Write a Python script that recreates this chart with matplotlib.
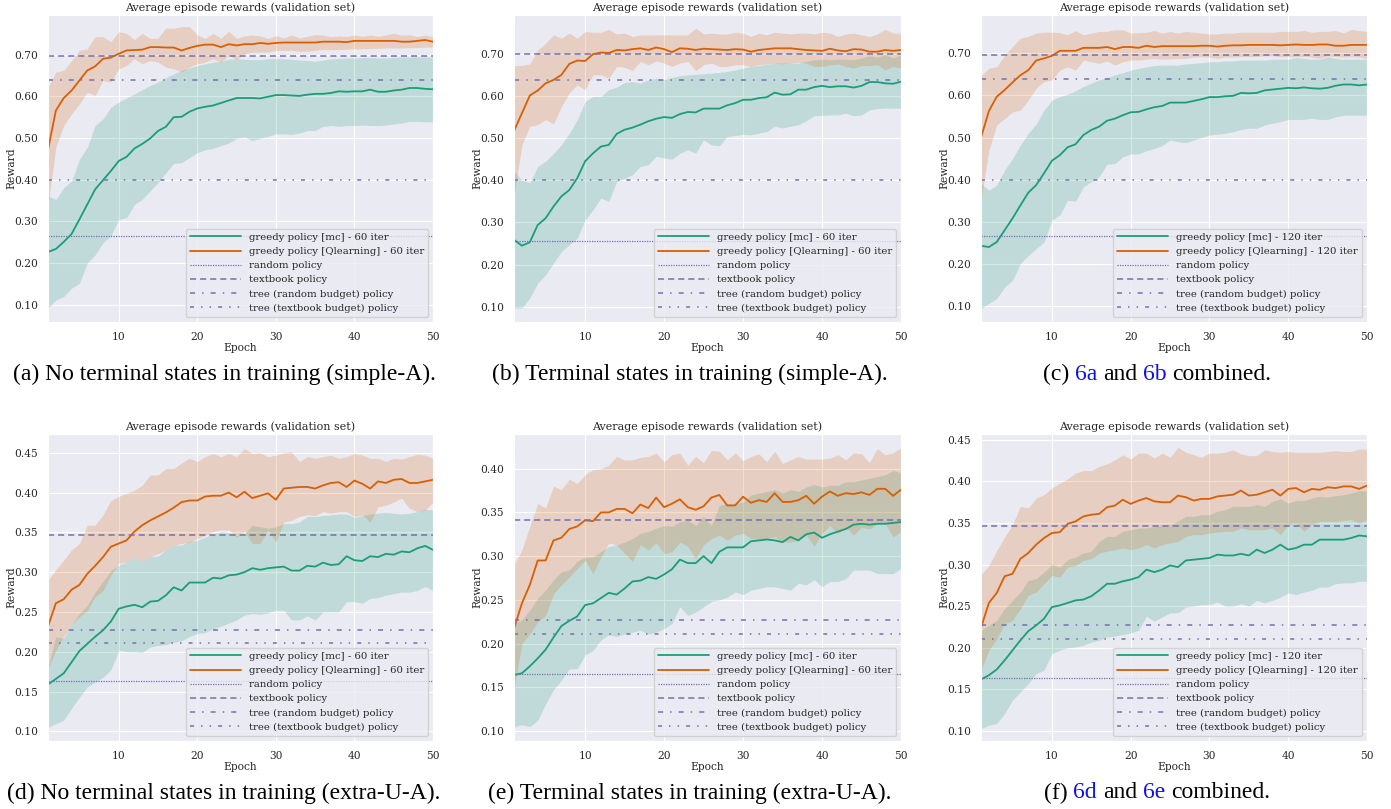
import matplotlib
matplotlib.use("Agg")
import matplotlib.pyplot as plt
import seaborn as sns
from matplotlib.ticker import MultipleLocator, FormatStrFormatter

sns.set_style("darkgrid")
plt.rcParams["font.family"] = "DejaVu Serif"

EPOCHS = list(range(1, 51))

# (a) no terminal states, simple-A
A_MC = [0.227, 0.234, 0.251, 0.270, 0.305, 0.341, 0.377, 0.399, 0.421, 0.445,
        0.455, 0.475, 0.486, 0.499, 0.517, 0.527, 0.550, 0.551, 0.563, 0.571,
        0.575, 0.578, 0.584, 0.590, 0.596, 0.596, 0.596, 0.595, 0.599, 0.603,
        0.603, 0.602, 0.601, 0.604, 0.606, 0.606, 0.608, 0.612, 0.611, 0.612,
        0.612, 0.616, 0.611, 0.611, 0.614, 0.616, 0.620, 0.620, 0.618, 0.617]
A_MC_HI = [0.361, 0.353, 0.381, 0.397, 0.449, 0.478, 0.530, 0.546, 0.574, 0.586,
           0.596, 0.606, 0.616, 0.626, 0.634, 0.645, 0.654, 0.662, 0.668, 0.674,
           0.678, 0.682, 0.684, 0.689, 0.690, 0.689, 0.688, 0.688, 0.690, 0.691,
           0.690, 0.689, 0.687, 0.686, 0.684, 0.687, 0.690, 0.691, 0.692, 0.692,
           0.693, 0.693, 0.692, 0.692, 0.693, 0.694, 0.694, 0.695, 0.694, 0.694]
A_MC_LO = [0.092, 0.112, 0.120, 0.140, 0.152, 0.200, 0.220, 0.249, 0.265, 0.305,
           0.309, 0.341, 0.353, 0.373, 0.393, 0.417, 0.439, 0.441, 0.453, 0.465,
           0.472, 0.475, 0.482, 0.488, 0.499, 0.503, 0.494, 0.499, 0.504, 0.510,
           0.510, 0.509, 0.512, 0.518, 0.518, 0.528, 0.530, 0.528, 0.530, 0.530,
           0.531, 0.530, 0.530, 0.531, 0.534, 0.536, 0.540, 0.540, 0.539, 0.539]
A_QL = [0.472, 0.566, 0.596, 0.614, 0.638, 0.662, 0.672, 0.690, 0.693, 0.702,
        0.710, 0.711, 0.712, 0.718, 0.718, 0.717, 0.717, 0.710, 0.716, 0.721,
        0.724, 0.724, 0.718, 0.725, 0.722, 0.725, 0.725, 0.728, 0.726, 0.728,
        0.729, 0.729, 0.729, 0.729, 0.729, 0.731, 0.731, 0.731, 0.730, 0.733,
        0.733, 0.733, 0.733, 0.733, 0.733, 0.731, 0.731, 0.733, 0.735, 0.731]
A_QL_HI = [0.622, 0.658, 0.662, 0.686, 0.710, 0.714, 0.743, 0.743, 0.731, 0.755,
           0.751, 0.736, 0.751, 0.739, 0.739, 0.764, 0.763, 0.767, 0.767, 0.747,
           0.739, 0.751, 0.739, 0.756, 0.739, 0.745, 0.747, 0.745, 0.739, 0.745,
           0.740, 0.747, 0.740, 0.744, 0.748, 0.747, 0.743, 0.745, 0.743, 0.747,
           0.744, 0.747, 0.744, 0.747, 0.751, 0.747, 0.748, 0.743, 0.747, 0.743]
A_QL_LO = [0.337, 0.478, 0.530, 0.558, 0.582, 0.610, 0.602, 0.638, 0.634, 0.666,
           0.674, 0.690, 0.678, 0.686, 0.682, 0.670, 0.666, 0.658, 0.670, 0.678,
           0.682, 0.690, 0.682, 0.698, 0.688, 0.702, 0.706, 0.706, 0.706, 0.710,
           0.710, 0.710, 0.708, 0.708, 0.710, 0.712, 0.712, 0.712, 0.713, 0.714,
           0.714, 0.715, 0.715, 0.716, 0.716, 0.716, 0.717, 0.717, 0.718, 0.718]

# (b) terminal states, simple-A
B_MC = [0.259, 0.245, 0.253, 0.294, 0.310, 0.338, 0.362, 0.377, 0.405, 0.445,
        0.464, 0.480, 0.484, 0.510, 0.520, 0.525, 0.532, 0.540, 0.546, 0.550,
        0.548, 0.557, 0.562, 0.561, 0.570, 0.570, 0.570, 0.578, 0.583, 0.591,
        0.591, 0.595, 0.597, 0.608, 0.603, 0.604, 0.615, 0.615, 0.621, 0.624,
        0.621, 0.623, 0.623, 0.620, 0.624, 0.633, 0.633, 0.630, 0.629, 0.634]
B_MC_HI = [0.421, 0.401, 0.394, 0.433, 0.445, 0.464, 0.484, 0.512, 0.543, 0.587,
           0.599, 0.599, 0.615, 0.621, 0.632, 0.634, 0.630, 0.638, 0.642, 0.638,
           0.644, 0.648, 0.650, 0.651, 0.653, 0.654, 0.656, 0.658, 0.662, 0.666,
           0.670, 0.672, 0.675, 0.678, 0.678, 0.678, 0.678, 0.682, 0.686, 0.687,
           0.686, 0.687, 0.687, 0.686, 0.690, 0.695, 0.692, 0.698, 0.690, 0.698]
B_MC_LO = [0.097, 0.097, 0.121, 0.156, 0.176, 0.204, 0.231, 0.247, 0.263, 0.306,
           0.330, 0.358, 0.350, 0.397, 0.405, 0.413, 0.433, 0.437, 0.457, 0.453,
           0.450, 0.464, 0.472, 0.464, 0.496, 0.484, 0.482, 0.504, 0.506, 0.509,
           0.508, 0.512, 0.516, 0.528, 0.524, 0.528, 0.532, 0.541, 0.553, 0.554,
           0.555, 0.555, 0.559, 0.553, 0.555, 0.567, 0.570, 0.571, 0.571, 0.571]
B_QL = [0.517, 0.559, 0.601, 0.613, 0.630, 0.638, 0.650, 0.676, 0.684, 0.683,
        0.699, 0.703, 0.702, 0.709, 0.708, 0.711, 0.713, 0.709, 0.715, 0.711,
        0.704, 0.713, 0.712, 0.709, 0.712, 0.711, 0.710, 0.709, 0.711, 0.710,
        0.705, 0.709, 0.711, 0.713, 0.713, 0.713, 0.711, 0.709, 0.708, 0.707,
        0.712, 0.708, 0.706, 0.711, 0.710, 0.705, 0.705, 0.709, 0.707, 0.709]
B_QL_HI = [0.672, 0.672, 0.676, 0.709, 0.725, 0.745, 0.737, 0.749, 0.737, 0.753,
           0.751, 0.751, 0.758, 0.747, 0.749, 0.741, 0.745, 0.745, 0.745, 0.745,
           0.745, 0.745, 0.745, 0.761, 0.747, 0.749, 0.747, 0.747, 0.751, 0.749,
           0.741, 0.749, 0.745, 0.751, 0.749, 0.747, 0.749, 0.749, 0.747, 0.751,
           0.749, 0.741, 0.747, 0.749, 0.745, 0.741, 0.747, 0.758, 0.749, 0.749]
B_QL_LO = [0.362, 0.484, 0.528, 0.532, 0.544, 0.534, 0.575, 0.607, 0.626, 0.615,
           0.650, 0.650, 0.642, 0.670, 0.668, 0.660, 0.682, 0.674, 0.683, 0.678,
           0.670, 0.678, 0.682, 0.660, 0.674, 0.678, 0.670, 0.670, 0.674, 0.674,
           0.670, 0.674, 0.676, 0.678, 0.676, 0.678, 0.680, 0.678, 0.670, 0.670,
           0.674, 0.676, 0.670, 0.666, 0.672, 0.672, 0.674, 0.662, 0.670, 0.666]

# (c) simple-A combined
C_MC = [0.243, 0.240, 0.252, 0.280, 0.308, 0.339, 0.369, 0.387, 0.415, 0.445,
        0.458, 0.477, 0.484, 0.506, 0.518, 0.526, 0.540, 0.545, 0.553, 0.560,
        0.561, 0.567, 0.572, 0.575, 0.583, 0.583, 0.583, 0.587, 0.591, 0.596,
        0.596, 0.598, 0.599, 0.606, 0.605, 0.606, 0.612, 0.614, 0.616, 0.618,
        0.617, 0.619, 0.617, 0.616, 0.618, 0.623, 0.626, 0.626, 0.624, 0.626]
C_MC_HI = [0.391, 0.375, 0.387, 0.423, 0.450, 0.482, 0.510, 0.532, 0.565, 0.589,
           0.597, 0.603, 0.611, 0.621, 0.629, 0.637, 0.642, 0.649, 0.654, 0.660,
           0.664, 0.668, 0.671, 0.672, 0.672, 0.672, 0.675, 0.676, 0.678, 0.680,
           0.680, 0.682, 0.682, 0.684, 0.684, 0.684, 0.684, 0.686, 0.686, 0.686,
           0.690, 0.688, 0.686, 0.686, 0.692, 0.688, 0.686, 0.686, 0.686, 0.686]
C_MC_LO = [0.094, 0.106, 0.118, 0.145, 0.161, 0.201, 0.220, 0.236, 0.252, 0.304,
           0.316, 0.351, 0.349, 0.383, 0.395, 0.407, 0.437, 0.438, 0.454, 0.461,
           0.461, 0.469, 0.474, 0.481, 0.494, 0.490, 0.488, 0.494, 0.500, 0.506,
           0.508, 0.510, 0.514, 0.519, 0.522, 0.522, 0.530, 0.534, 0.538, 0.543,
           0.543, 0.543, 0.546, 0.543, 0.543, 0.549, 0.553, 0.553, 0.553, 0.553]
C_QL = [0.500, 0.563, 0.597, 0.613, 0.631, 0.648, 0.660, 0.683, 0.688, 0.694,
        0.706, 0.706, 0.706, 0.713, 0.713, 0.713, 0.715, 0.710, 0.715, 0.715,
        0.713, 0.718, 0.715, 0.717, 0.717, 0.717, 0.717, 0.717, 0.718, 0.718,
        0.716, 0.718, 0.719, 0.719, 0.720, 0.720, 0.720, 0.720, 0.719, 0.720,
        0.721, 0.720, 0.720, 0.721, 0.721, 0.718, 0.718, 0.720, 0.720, 0.720]
C_QL_HI = [0.646, 0.665, 0.668, 0.696, 0.716, 0.736, 0.740, 0.748, 0.750, 0.750,
           0.749, 0.744, 0.754, 0.744, 0.748, 0.752, 0.752, 0.756, 0.756, 0.748,
           0.749, 0.750, 0.754, 0.748, 0.752, 0.748, 0.752, 0.750, 0.748, 0.746,
           0.746, 0.748, 0.748, 0.750, 0.750, 0.750, 0.750, 0.750, 0.752, 0.752,
           0.752, 0.754, 0.750, 0.752, 0.752, 0.754, 0.748, 0.757, 0.754, 0.752]
C_QL_LO = [0.351, 0.470, 0.530, 0.545, 0.561, 0.565, 0.589, 0.617, 0.633, 0.637,
           0.660, 0.668, 0.660, 0.684, 0.680, 0.676, 0.682, 0.672, 0.680, 0.684,
           0.684, 0.686, 0.688, 0.686, 0.687, 0.688, 0.688, 0.691, 0.692, 0.691,
           0.688, 0.691, 0.691, 0.692, 0.692, 0.692, 0.694, 0.694, 0.692, 0.692,
           0.692, 0.692, 0.691, 0.688, 0.694, 0.692, 0.691, 0.692, 0.691, 0.688]

# (d) no terminal states, extra-U-A
D_MC = [0.159, 0.166, 0.173, 0.187, 0.201, 0.210, 0.219, 0.227, 0.238, 0.254,
        0.257, 0.259, 0.256, 0.263, 0.264, 0.271, 0.281, 0.277, 0.287, 0.287,
        0.287, 0.293, 0.292, 0.296, 0.297, 0.300, 0.305, 0.303, 0.305, 0.306,
        0.307, 0.302, 0.302, 0.308, 0.307, 0.312, 0.309, 0.310, 0.320, 0.315,
        0.314, 0.320, 0.319, 0.323, 0.322, 0.326, 0.325, 0.330, 0.333, 0.328]
D_MC_HI = [0.181, 0.219, 0.217, 0.235, 0.248, 0.258, 0.275, 0.288, 0.302, 0.309,
           0.313, 0.319, 0.313, 0.320, 0.320, 0.328, 0.334, 0.334, 0.339, 0.340,
           0.344, 0.348, 0.351, 0.350, 0.346, 0.348, 0.359, 0.357, 0.355, 0.357,
           0.361, 0.361, 0.363, 0.370, 0.370, 0.371, 0.372, 0.373, 0.373, 0.369,
           0.371, 0.373, 0.374, 0.375, 0.374, 0.373, 0.374, 0.376, 0.379, 0.378]
D_MC_LO = [0.105, 0.110, 0.114, 0.129, 0.143, 0.156, 0.162, 0.168, 0.177, 0.202,
           0.200, 0.200, 0.199, 0.206, 0.208, 0.209, 0.212, 0.214, 0.219, 0.223,
           0.224, 0.229, 0.232, 0.236, 0.240, 0.246, 0.248, 0.247, 0.249, 0.252,
           0.252, 0.240, 0.240, 0.245, 0.240, 0.250, 0.250, 0.250, 0.263, 0.263,
           0.261, 0.267, 0.268, 0.271, 0.273, 0.275, 0.275, 0.277, 0.282, 0.277]
D_QL = [0.232, 0.261, 0.266, 0.278, 0.284, 0.298, 0.308, 0.319, 0.332, 0.336,
        0.340, 0.351, 0.359, 0.365, 0.370, 0.375, 0.381, 0.388, 0.390, 0.390,
        0.395, 0.396, 0.396, 0.400, 0.394, 0.401, 0.393, 0.396, 0.399, 0.391,
        0.405, 0.406, 0.407, 0.407, 0.405, 0.409, 0.412, 0.413, 0.407, 0.415,
        0.411, 0.405, 0.414, 0.412, 0.416, 0.417, 0.412, 0.412, 0.414, 0.416]
D_QL_HI = [0.290, 0.303, 0.315, 0.328, 0.336, 0.359, 0.359, 0.372, 0.390, 0.395,
           0.399, 0.403, 0.409, 0.422, 0.422, 0.430, 0.430, 0.437, 0.443, 0.439,
           0.445, 0.449, 0.445, 0.449, 0.445, 0.455, 0.449, 0.450, 0.445, 0.447,
           0.450, 0.451, 0.439, 0.445, 0.443, 0.445, 0.447, 0.443, 0.445, 0.449,
           0.447, 0.443, 0.443, 0.439, 0.443, 0.442, 0.445, 0.448, 0.447, 0.443]
D_QL_LO = [0.179, 0.202, 0.219, 0.235, 0.244, 0.252, 0.269, 0.277, 0.296, 0.311,
           0.313, 0.319, 0.313, 0.320, 0.323, 0.328, 0.334, 0.336, 0.338, 0.342,
           0.346, 0.351, 0.353, 0.353, 0.344, 0.351, 0.336, 0.336, 0.353, 0.338,
           0.363, 0.365, 0.370, 0.372, 0.371, 0.376, 0.374, 0.376, 0.376, 0.370,
           0.372, 0.363, 0.382, 0.384, 0.388, 0.393, 0.380, 0.376, 0.378, 0.388]

# (e) terminal states, extra-U-A
E_MC = [0.164, 0.166, 0.174, 0.183, 0.193, 0.207, 0.220, 0.226, 0.231, 0.244,
        0.246, 0.252, 0.258, 0.256, 0.263, 0.271, 0.272, 0.276, 0.274, 0.279,
        0.285, 0.296, 0.292, 0.292, 0.300, 0.292, 0.305, 0.310, 0.310, 0.310,
        0.317, 0.318, 0.319, 0.318, 0.316, 0.322, 0.318, 0.325, 0.327, 0.321,
        0.325, 0.328, 0.331, 0.336, 0.337, 0.336, 0.337, 0.337, 0.338, 0.339]
E_MC_HI = [0.223, 0.227, 0.238, 0.252, 0.261, 0.273, 0.282, 0.284, 0.294, 0.299,
           0.299, 0.305, 0.311, 0.313, 0.316, 0.320, 0.326, 0.328, 0.332, 0.335,
           0.334, 0.339, 0.341, 0.335, 0.345, 0.335, 0.358, 0.360, 0.360, 0.362,
           0.370, 0.372, 0.374, 0.376, 0.372, 0.376, 0.374, 0.379, 0.382, 0.379,
           0.381, 0.381, 0.385, 0.385, 0.387, 0.389, 0.391, 0.393, 0.398, 0.395]
E_MC_LO = [0.105, 0.107, 0.105, 0.112, 0.131, 0.147, 0.158, 0.171, 0.171, 0.187,
           0.192, 0.204, 0.210, 0.208, 0.211, 0.213, 0.215, 0.211, 0.213, 0.217,
           0.223, 0.242, 0.232, 0.236, 0.242, 0.248, 0.250, 0.253, 0.259, 0.256,
           0.261, 0.263, 0.265, 0.265, 0.263, 0.261, 0.269, 0.267, 0.273, 0.265,
           0.271, 0.271, 0.274, 0.284, 0.284, 0.284, 0.280, 0.280, 0.280, 0.286]
E_QL = [0.217, 0.246, 0.267, 0.295, 0.295, 0.318, 0.321, 0.331, 0.334, 0.341,
        0.340, 0.350, 0.350, 0.354, 0.354, 0.349, 0.359, 0.355, 0.367, 0.356,
        0.360, 0.365, 0.356, 0.353, 0.357, 0.367, 0.370, 0.358, 0.358, 0.368,
        0.361, 0.364, 0.362, 0.372, 0.362, 0.362, 0.364, 0.369, 0.360, 0.368,
        0.374, 0.369, 0.372, 0.371, 0.373, 0.370, 0.377, 0.377, 0.369, 0.376]
E_QL_HI = [0.290, 0.307, 0.334, 0.360, 0.355, 0.380, 0.376, 0.388, 0.383, 0.393,
           0.399, 0.400, 0.404, 0.414, 0.410, 0.410, 0.413, 0.414, 0.418, 0.408,
           0.416, 0.418, 0.404, 0.414, 0.407, 0.421, 0.420, 0.410, 0.418, 0.409,
           0.414, 0.417, 0.408, 0.420, 0.406, 0.410, 0.414, 0.411, 0.411, 0.411,
           0.412, 0.416, 0.410, 0.418, 0.417, 0.407, 0.423, 0.416, 0.418, 0.424]
E_QL_LO = [0.147, 0.200, 0.211, 0.225, 0.232, 0.257, 0.267, 0.276, 0.286, 0.295,
           0.280, 0.299, 0.315, 0.313, 0.303, 0.294, 0.313, 0.307, 0.315, 0.303,
           0.305, 0.316, 0.311, 0.297, 0.313, 0.320, 0.324, 0.318, 0.324, 0.326,
           0.320, 0.320, 0.320, 0.322, 0.316, 0.316, 0.318, 0.324, 0.311, 0.326,
           0.335, 0.326, 0.333, 0.324, 0.333, 0.331, 0.337, 0.337, 0.322, 0.328]

# (f) extra-U-A combined
F_MC = [0.162, 0.167, 0.174, 0.185, 0.197, 0.209, 0.220, 0.227, 0.235, 0.249,
        0.251, 0.254, 0.257, 0.258, 0.262, 0.269, 0.277, 0.277, 0.280, 0.282,
        0.285, 0.294, 0.291, 0.294, 0.299, 0.297, 0.305, 0.306, 0.307, 0.308,
        0.312, 0.311, 0.311, 0.313, 0.311, 0.318, 0.314, 0.318, 0.324, 0.318,
        0.320, 0.324, 0.324, 0.330, 0.330, 0.330, 0.330, 0.332, 0.335, 0.334]
F_MC_HI = [0.221, 0.227, 0.233, 0.247, 0.257, 0.267, 0.281, 0.283, 0.291, 0.300,
           0.297, 0.306, 0.309, 0.314, 0.316, 0.328, 0.334, 0.334, 0.340, 0.342,
           0.344, 0.344, 0.346, 0.348, 0.348, 0.352, 0.358, 0.358, 0.360, 0.360,
           0.364, 0.366, 0.370, 0.370, 0.370, 0.372, 0.370, 0.376, 0.379, 0.374,
           0.377, 0.377, 0.380, 0.382, 0.381, 0.383, 0.384, 0.386, 0.389, 0.388]
F_MC_LO = [0.103, 0.107, 0.109, 0.121, 0.137, 0.147, 0.157, 0.169, 0.173, 0.193,
           0.197, 0.200, 0.201, 0.203, 0.207, 0.209, 0.213, 0.214, 0.216, 0.218,
           0.221, 0.238, 0.232, 0.237, 0.242, 0.242, 0.249, 0.250, 0.252, 0.252,
           0.255, 0.250, 0.250, 0.253, 0.250, 0.257, 0.254, 0.257, 0.261, 0.266,
           0.264, 0.267, 0.269, 0.273, 0.273, 0.277, 0.278, 0.278, 0.280, 0.280]
F_QL = [0.224, 0.254, 0.266, 0.286, 0.289, 0.307, 0.314, 0.324, 0.332, 0.338,
        0.339, 0.349, 0.352, 0.358, 0.360, 0.361, 0.369, 0.371, 0.378, 0.373,
        0.377, 0.380, 0.376, 0.375, 0.375, 0.383, 0.381, 0.377, 0.379, 0.379,
        0.382, 0.383, 0.384, 0.389, 0.383, 0.384, 0.387, 0.390, 0.383, 0.391,
        0.392, 0.387, 0.391, 0.390, 0.393, 0.392, 0.394, 0.394, 0.391, 0.395]
F_QL_HI = [0.288, 0.299, 0.317, 0.333, 0.348, 0.370, 0.368, 0.380, 0.384, 0.392,
           0.398, 0.403, 0.410, 0.413, 0.413, 0.418, 0.421, 0.426, 0.432, 0.427,
           0.434, 0.434, 0.428, 0.434, 0.429, 0.441, 0.435, 0.432, 0.429, 0.434,
           0.434, 0.435, 0.438, 0.433, 0.431, 0.431, 0.438, 0.436, 0.435, 0.436,
           0.435, 0.435, 0.435, 0.435, 0.436, 0.437, 0.436, 0.436, 0.439, 0.439]
F_QL_LO = [0.173, 0.197, 0.211, 0.229, 0.233, 0.247, 0.263, 0.267, 0.277, 0.287,
           0.285, 0.297, 0.299, 0.305, 0.307, 0.314, 0.316, 0.318, 0.320, 0.318,
           0.320, 0.324, 0.320, 0.324, 0.326, 0.328, 0.334, 0.336, 0.336, 0.338,
           0.339, 0.340, 0.340, 0.344, 0.342, 0.342, 0.342, 0.344, 0.336, 0.348,
           0.350, 0.340, 0.348, 0.352, 0.352, 0.352, 0.353, 0.354, 0.350, 0.354]

# baseline policies, one value per panel (a..f)
RANDOM_POLICY = [0.265, 0.255, 0.266, 0.163, 0.165, 0.164]
TEXTBOOK_POLICY = [0.697, 0.699, 0.697, 0.347, 0.341, 0.347]
TREE_RANDOM_BUDGET = [0.640, 0.639, 0.639, 0.227, 0.227, 0.227]
TREE_TEXTBOOK_BUDGET = [0.400, 0.400, 0.400, 0.211, 0.211, 0.211]
ITERS = [60, 60, 120, 60, 60, 120]

BLUE = "#1010ee"
CAPTIONS = [
    [("(a) No terminal states in training (simple-A).", "black")],
    [("(b) Terminal states in training (simple-A).", "black")],
    [("(c) ", "black"), ("6a", BLUE), (" and ", "black"), ("6b", BLUE), (" combined.", "black")],
    [("(d) No terminal states in training (extra-U-A).", "black")],
    [("(e) Terminal states in training (extra-U-A).", "black")],
    [("(f) ", "black"), ("6d", BLUE), (" and ", "black"), ("6e", BLUE), (" combined.", "black")],
]

panels = [
    (A_MC, A_MC_LO, A_MC_HI, A_QL, A_QL_LO, A_QL_HI),
    (B_MC, B_MC_LO, B_MC_HI, B_QL, B_QL_LO, B_QL_HI),
    (C_MC, C_MC_LO, C_MC_HI, C_QL, C_QL_LO, C_QL_HI),
    (D_MC, D_MC_LO, D_MC_HI, D_QL, D_QL_LO, D_QL_HI),
    (E_MC, E_MC_LO, E_MC_HI, E_QL, E_QL_LO, E_QL_HI),
    (F_MC, F_MC_LO, F_MC_HI, F_QL, F_QL_LO, F_QL_HI),
]

YLIMS = [(0.059, 0.795), (0.064, 0.792), (0.062, 0.791),
         (0.088, 0.4735), (0.0885, 0.4397), (0.088, 0.457)]
YSTEPS = [0.1, 0.1, 0.1, 0.05, 0.05, 0.05]

GREEN = "#1b9e77"
ORANGE = "#d95f02"
PURPLE = "#7570b3"

W, H = 1391, 809
LEFTS = [48, 514, 981]
WIDTHS = [385, 387, 386]
TOPS = [15, 434]
AX_H = 307
CAP_X = [224, 690, 1157]
CAP_Y = [374, 793]
CAP_SIZE = 17

fig = plt.figure(figsize=(W / 100, H / 100), dpi=100)

for i, (mc, mc_lo, mc_hi, ql, ql_lo, ql_hi) in enumerate(panels):
    row, col = divmod(i, 3)
    ax = fig.add_axes([LEFTS[col] / W, 1 - (TOPS[row] + AX_H) / H,
                       WIDTHS[col] / W, AX_H / H])
    ax.fill_between(EPOCHS, mc_lo, mc_hi, color=GREEN, alpha=0.2, lw=0)
    ax.fill_between(EPOCHS, ql_lo, ql_hi, color=ORANGE, alpha=0.2, lw=0)
    ax.plot(EPOCHS, mc, color=GREEN, lw=1.3,
            label=f"greedy policy [mc] - {ITERS[i]} iter")
    ax.plot(EPOCHS, ql, color=ORANGE, lw=1.3,
            label=f"greedy policy [Qlearning] - {ITERS[i]} iter")
    ax.axhline(RANDOM_POLICY[i], color=PURPLE, ls=(0, (1, 1)), lw=0.9, label="random policy")
    ax.axhline(TEXTBOOK_POLICY[i], color=PURPLE, ls=(0, (4, 2.6)), lw=1.1,
               label="textbook policy")
    ax.axhline(TREE_RANDOM_BUDGET[i], color=PURPLE, ls=(0, (3.3, 4.6, 1, 4.6)), lw=1.1,
               label="tree (random budget) policy")
    ax.axhline(TREE_TEXTBOOK_BUDGET[i], color=PURPLE,
               ls=(0, (2.6, 4.6, 1, 4.6, 1, 4.6)), lw=1.1,
               label="tree (textbook budget) policy")
    ax.set_xlim(1, 50)
    ax.set_ylim(*YLIMS[i])
    ax.set_xticks([10, 20, 30, 40, 50])
    ax.yaxis.set_major_locator(MultipleLocator(YSTEPS[i]))
    ax.yaxis.set_major_formatter(FormatStrFormatter("%.2f"))
    ax.tick_params(labelsize=7.7, pad=3.5)
    ax.set_title("Average episode rewards (validation set)", fontsize=8, pad=3)
    ax.set_xlabel("Epoch", fontsize=7.7, labelpad=1)
    ax.set_ylabel("Reward", fontsize=7.7, labelpad=-1.5)
    ax.legend(loc="lower right", fontsize=7.3, handlelength=5.0)

# captions under each panel; pieces placed by measuring the text before them
renderer = fig.canvas.get_renderer()


def text_width(s):
    t = fig.text(0, 0, s, fontsize=CAP_SIZE, family="Liberation Serif")
    w = t.get_window_extent(renderer).width
    t.remove()
    return w


x_width = text_width("x")
for i, parts in enumerate(CAPTIONS):
    row, col = divmod(i, 3)
    full = "".join(s for s, c in parts)
    left = CAP_X[col] - text_width(full) / 2
    pos = 0
    for s, c in parts:
        lead = len(s) - len(s.lstrip())
        prefix = full[:pos + lead]
        off = text_width(prefix + "x") - x_width if prefix else 0
        fig.text((left + off) / W, 1 - CAP_Y[row] / H, s.strip(), color=c,
                 fontsize=CAP_SIZE, family="Liberation Serif", va="center", ha="left")
        pos += len(s)

fig.savefig("out.png", dpi=100)
